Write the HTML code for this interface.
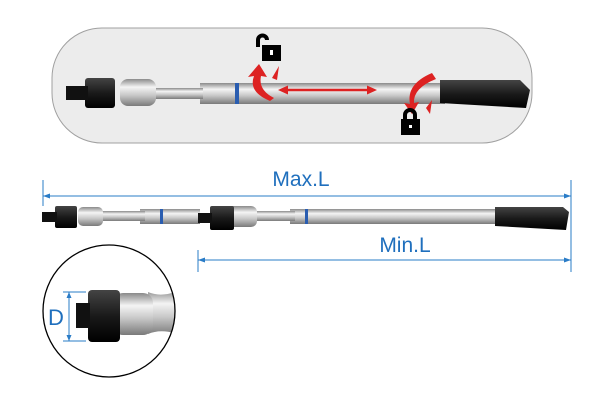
<!DOCTYPE html>
<html><head><style>body{margin:0;background:#fff}svg{display:block}</style></head><body>
<svg width="600" height="420" viewBox="0 0 600 420" xmlns="http://www.w3.org/2000/svg" font-family="Liberation Sans, sans-serif">
<defs>
<linearGradient id="s" x1="0" y1="0" x2="0" y2="1"><stop offset="0" stop-color="#8a8a8a"/><stop offset=".3" stop-color="#f4f4f4"/><stop offset=".6" stop-color="#c8c8c8"/><stop offset="1" stop-color="#7a7a7a"/></linearGradient>
<linearGradient id="k" x1="0" y1="0" x2="0" y2="1"><stop offset="0" stop-color="#444"/><stop offset=".5" stop-color="#1a1a1a"/><stop offset="1" stop-color="#000"/></linearGradient>
</defs>
<rect x="52" y="28" width="480" height="115" rx="50" fill="#ececec" stroke="#a0a0a0"/>
<!-- top ratchet -->
<rect x="200" y="83" width="245" height="21" fill="url(#s)"/>
<rect x="148" y="88" width="55" height="11" fill="url(#s)"/>
<rect x="120" y="79" width="36" height="27" rx="8" fill="url(#s)"/>
<rect x="235" y="83" width="4" height="21" fill="#2a5db0"/>
<path d="M440 80 L520 80 L530 90 L526 108 L440 103 Z" fill="url(#k)"/>
<rect x="85" y="78" width="30" height="30" rx="3" fill="url(#k)"/>
<rect x="66" y="86" width="22" height="14" fill="#111"/>
<!-- red arrows -->
<path d="M285 90 L370 90" stroke="#d22" stroke-width="2.5"/>
<path d="M278 90 l10 -4.5 v9z M377 90 l-10 -4.5 v9z" fill="#d22"/>
<path d="M270 101 Q248 92 254 76 L248 77 L259 64 L267 77 L261 76 Q258 90 274 98 Z" fill="#d22"/>
<path d="M432 73 Q406 84 410 104 L404 103 L412 114 L419 102 L414 103 Q413 88 436 79 Z" fill="#d22"/>
<path d="M272 78 L279 66 L277 80 Z M426 108 L432 100 L430 114 Z" fill="#d22"/>
<!-- locks -->
<path d="M258 47 V40 a4 4 0 0 1 9 0" stroke="#000" stroke-width="4" fill="none"/>
<rect x="262" y="45" width="19" height="16" fill="#000"/><rect x="270" y="50" width="3" height="5" fill="#fff"/>
<path d="M405 121 V115 a5 5 0 0 1 10 0 V121" stroke="#000" stroke-width="4" fill="none"/>
<rect x="401" y="119" width="19" height="16" fill="#000"/><rect x="409" y="125" width="3" height="3" fill="#fff"/>
<!-- dimension lines -->
<g stroke="#2a7cc7" stroke-width="1" fill="none">
<path d="M43 180 V206 M571 180 V272 M198 250 V272 M43 196 H571 M198 260 H571"/>
</g>
<g fill="#2a7cc7">
<path d="M43 196 l7 -2.5 v5z M571 196 l-7 -2.5 v5z M198 260 l7 -2.5 v5z M571 260 l-7 -2.5 v5z"/>
</g>
<text x="301" y="186" font-size="21" fill="#1f6fbd" text-anchor="middle">Max.L</text>
<text x="405" y="252" font-size="21" fill="#1f6fbd" text-anchor="middle">Min.L</text>
<!-- bottom ratchet -->
<rect x="290" y="209" width="210" height="15" fill="url(#s)"/>
<rect x="140" y="209" width="60" height="15" fill="url(#s)"/>
<rect x="95" y="211" width="50" height="10" fill="url(#s)"/>
<rect x="250" y="211" width="45" height="10" fill="url(#s)"/>
<rect x="78" y="207" width="25" height="19" rx="5" fill="url(#s)"/>
<rect x="225" y="206" width="32" height="21" rx="6" fill="url(#s)"/>
<rect x="160" y="209" width="3" height="15" fill="#2a5db0"/>
<rect x="305" y="209" width="3" height="15" fill="#2a5db0"/>
<path d="M495 207 L563 207 L569 212 L566 230 L495 226 Z" fill="url(#k)"/>
<rect x="55" y="206" width="22" height="22" rx="2" fill="url(#k)"/>
<rect x="42" y="212" width="15" height="10" fill="#111"/>
<rect x="210" y="206" width="24" height="24" rx="2" fill="url(#k)"/>
<rect x="198" y="213" width="14" height="10" fill="#111"/>
<!-- zoom circle -->
<clipPath id="c"><circle cx="109" cy="311" r="66"/></clipPath>
<g clip-path="url(#c)">
<rect x="40" y="240" width="150" height="145" fill="#fff"/>
<path d="M148 292 Q162 298 180 290 L180 335 Q162 328 148 334 Z" fill="url(#s)"/>
<rect x="113" y="293" width="40" height="42" rx="10" fill="url(#s)"/>
<rect x="88" y="290" width="32" height="52" rx="4" fill="url(#k)"/>
<rect x="76" y="303" width="14" height="25" fill="#111"/>
</g>
<circle cx="109" cy="311" r="66" fill="none" stroke="#000" stroke-width="1.3"/>
<g stroke="#2a7cc7" stroke-width="1" fill="none"><path d="M63 292 H86 M63 341 H86 M69 292 V341"/></g>
<g fill="#2a7cc7"><path d="M69 292 l-2.5 6 h5z M69 341 l-2.5 -6 h5z"/></g>
<text x="48" y="325" font-size="22" fill="#1f6fbd">D</text>
</svg>
</body></html>
